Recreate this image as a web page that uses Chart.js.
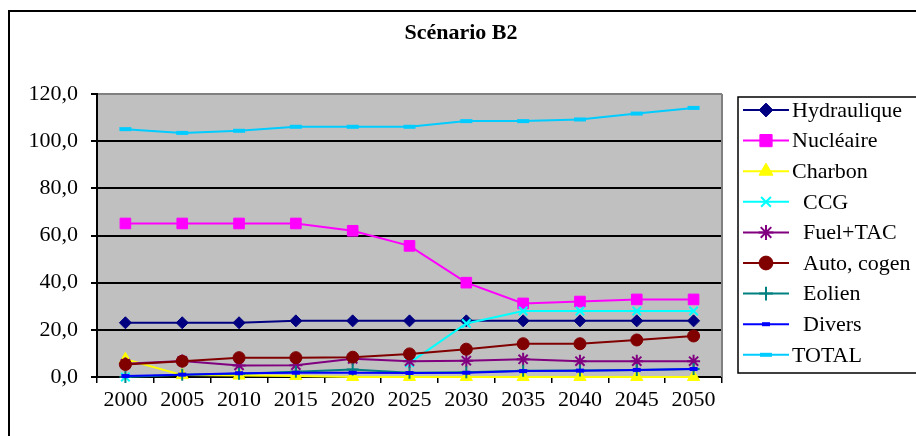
<!DOCTYPE html>
<html>
<head>
<meta charset="utf-8">
<script src="https://cdn.jsdelivr.net/npm/chart.js@4.4.1/dist/chart.umd.min.js"></script>
<style>
html,body{margin:0;padding:0;background:#fff;}
canvas{display:block;}
</style>
</head>
<body>
<canvas id="c" width="916" height="436"></canvas>
<script>
// ---- Data ----
const years = ['2000','2005','2010','2015','2020','2025','2030','2035','2040','2045','2050'];
const hydraulique = [23.0, 23.0, 23.0, 23.8, 23.8, 23.8, 23.8, 23.8, 23.8, 23.8, 23.8];
const nucleaire   = [65.1, 65.1, 65.1, 65.1, 62.0, 55.6, 40.0, 31.2, 32.0, 32.9, 32.9];
const charbon     = [7.5, 0.8, 0.6, 0.4, 0, 0, 0, 0, 0, 0, 0];
const ccg         = [0, null, null, null, null, 6.0, 22.7, 28.0, 28.0, 28.0, 28.0];
const fuelTac     = [5.6, 6.8, 4.9, 5.0, 7.7, 6.7, 6.9, 7.5, 6.7, 6.7, 6.7];
const autoCogen   = [5.3, 6.7, 8.2, 8.2, 8.4, 9.8, 11.8, 14.1, 14.1, 15.7, 17.4];
const eolien      = [0, 1.0, 1.4, 2.2, 3.2, 1.8, 2.0, 2.6, 2.8, 3.0, 3.4];
const divers      = [0.4, 1.0, 1.6, 1.8, 1.8, 1.7, 1.8, 2.5, 2.7, 3.0, 3.4];
const total       = [105.1, 103.5, 104.4, 106.1, 106.1, 106.1, 108.5, 108.5, 109.2, 111.7, 114.1];
const seriesNames = ['Hydraulique', 'Nucléaire', 'Charbon', '  CCG', '  Fuel+TAC', '  Auto, cogen', '  Eolien', '  Divers', 'TOTAL'];
const yTicks = [0, 20, 40, 60, 80, 100, 120];
const titleText = 'Scénario B2';

const FONT = 'Liberation Serif';

const styles = [
  {color:'#000080', pointStyle:'rectRot', radius:6, bw:1},
  {color:'#FF00FF', pointStyle:'rect', radius:7.5, bw:1},
  {color:'#FFFF00', pointStyle:'triangle', radius:7, bw:1},
  {color:'#00FFFF', pointStyle:'crossRot', radius:6, bw:2},
  {color:'#800080', pointStyle:'star', radius:6.5, bw:2},
  {color:'#800000', pointStyle:'circle', radius:6, bw:1},
  {color:'#008080', pointStyle:'cross', radius:6, bw:2},
  {color:'#0000FF', pointStyle:'line', radius:4, bw:4},
  {color:'#00CCFF', pointStyle:'line', radius:6, bw:4}
];
const values = [hydraulique, nucleaire, charbon, ccg, fuelTac, autoCogen, eolien, divers, total];

const datasets = values.map((v, i) => ({
  label: seriesNames[i],
  data: v,
  borderColor: styles[i].color,
  backgroundColor: styles[i].color,
  borderWidth: 2,
  pointStyle: styles[i].pointStyle,
  pointRadius: styles[i].radius,
  pointBackgroundColor: styles[i].color,
  pointBorderColor: styles[i].color,
  pointBorderWidth: styles[i].bw,
  tension: 0,
  fill: false,
  clip: false,
  spanGaps: false,
  order: values.length - 1 - i
}));

const decor = {
  id: 'decor',
  beforeDraw(chart) {
    const ctx = chart.ctx, a = chart.chartArea;
    ctx.save();
    ctx.fillStyle = '#fff';
    ctx.fillRect(0, 0, chart.width, chart.height);
    ctx.fillStyle = '#C0C0C0';
    ctx.fillRect(a.left, a.top, a.right - a.left, a.bottom - a.top);
    ctx.restore();
  },
  afterDatasetsDraw(chart) {
    const ctx = chart.ctx, a = chart.chartArea;
    ctx.save();
    // right gray border of plot area
    ctx.strokeStyle = '#808080';
    ctx.lineWidth = 2;
    ctx.beginPath();
    ctx.moveTo(a.right, a.top);
    ctx.lineTo(a.right, a.bottom);
    ctx.stroke();
    // outer chart border
    ctx.strokeStyle = '#000';
    ctx.lineWidth = 2;
    ctx.strokeRect(9, 11, 1000, 1000);
    // title
    ctx.fillStyle = '#000';
    ctx.font = 'bold 22px "' + FONT + '"';
    ctx.textAlign = 'center';
    ctx.textBaseline = 'middle';
    ctx.fillText(titleText, 461, 33);
    // legend box
    ctx.lineWidth = 1.5;
    ctx.strokeStyle = '#000';
    ctx.strokeRect(738, 97, 300, 276);
    ctx.font = '22px "' + FONT + '"';
    ctx.textAlign = 'left';
    const x0 = 743, x1 = 789, xm = 766;
    chart.data.datasets.forEach((ds, i) => {
      const y = 110 + i * 30.6;
      ctx.strokeStyle = ds.borderColor;
      ctx.lineWidth = 2;
      ctx.beginPath();
      ctx.moveTo(x0, y);
      ctx.lineTo(x1, y);
      ctx.stroke();
      ctx.fillStyle = ds.pointBackgroundColor;
      ctx.strokeStyle = ds.pointBorderColor;
      ctx.lineWidth = ds.pointBorderWidth;
      if (Chart.helpers && Chart.helpers.drawPoint) {
        const r = ds.pointStyle === 'line' ? ds.pointRadius : ds.pointRadius * 1.15;
        Chart.helpers.drawPoint(ctx, {pointStyle: ds.pointStyle, radius: r, rotation: 0, borderWidth: ds.pointBorderWidth}, xm, y);
      }
      ctx.fillStyle = '#000';
      ctx.fillText(ds.label, 792, y + 1);
    });
    ctx.restore();
  }
};

new Chart(document.getElementById('c'), {
  type: 'line',
  data: { labels: years, datasets: datasets },
  options: {
    responsive: false,
    animation: false,
    devicePixelRatio: 1,
    layout: { padding: { left: 0, right: 194, top: 94, bottom: 0 } },
    plugins: { legend: { display: false }, tooltip: { enabled: false }, title: { display: false } },
    scales: {
      x: {
        offset: true,
        grid: { offset: true, drawOnChartArea: false, drawTicks: true, tickLength: 6, color: '#000', lineWidth: 1.5 },
        border: { color: '#000', width: 2 },
        ticks: { font: { family: FONT, size: 22 }, color: '#000', padding: 4, maxRotation: 0, autoSkip: false },
        afterFit(scale) { scale.height = 59; }
      },
      y: {
        min: 0, max: 120,
        afterBuildTicks(scale) { scale.ticks = yTicks.map(v => ({ value: v })); },
        grid: {
          color: (c) => (c.tick && c.tick.value === 120) ? '#808080' : '#000',
          tickColor: '#000',
          lineWidth: 2,
          tickLength: 6
        },
        border: { color: '#000', width: 2 },
        ticks: {
          font: { family: FONT, size: 22 }, color: '#000', padding: 13,
          callback: (v) => Number(v).toFixed(1).replace('.', ',')
        },
        afterFit(scale) { scale.width = 97; }
      }
    }
  },
  plugins: [decor]
});
</script>
</body>
</html>
